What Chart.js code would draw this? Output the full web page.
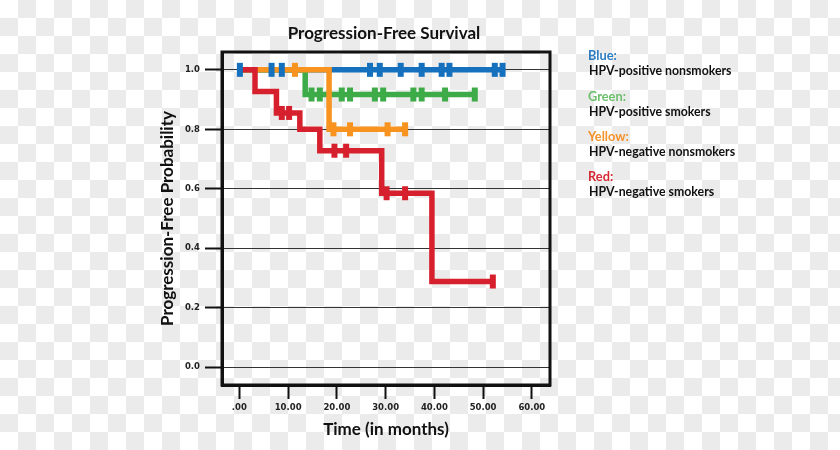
<!DOCTYPE html>
<html><head><meta charset="utf-8">
<script src="https://cdn.jsdelivr.net/npm/chart.js@4/dist/chart.umd.min.js"></script>
<style>
html,body{margin:0;padding:0;}
body{width:840px;height:450px;overflow:hidden;position:relative;
background:repeating-conic-gradient(#ebebeb 0 25%, #ffffff 0 50%) 0 0/36px 36px;}
#c{position:absolute;left:0;top:0;}
.t{position:absolute;font-family:Lato,sans-serif;font-weight:700;white-space:nowrap;line-height:15px;}
#title{position:absolute;left:284px;top:22px;width:200px;text-align:center;font-family:Lato,sans-serif;font-weight:700;font-size:17px;line-height:21px;color:#111;white-space:nowrap;}
</style>
</head><body>
<canvas id="c" width="840" height="450"></canvas>
<div id="title">Progression-Free Survival</div>
<div id="legend"></div>
<script>
// ---- data ----
const xTicks = [0, 10, 20, 30, 40, 50, 60];
const xTickLabels = ['.00', '10.00', '20.00', '30.00', '40.00', '50.00', '60.00'];
const yTicks = [0, 0.2, 0.4, 0.6, 0.8, 1.0];
const yTickLabels = ['0.0', '0.2', '0.4', '0.6', '0.8', '1.0'];

// step curves: times where survival changes, and the survival from then on
const blueTimes = [0, 54.0];
const blueSurv = [1.0, 1.0];
const blueCensor = [0.1, 6.6, 8.7, 26.8, 28.8, 33.1, 37.4, 41.5, 43.1, 52.4, 54.0];

const greenTimes = [0, 13.5, 48.3];
const greenSurv = [1.0, 0.917, 0.917];
const greenCensor = [14.8, 16.5, 21.0, 22.7, 27.8, 29.5, 35.7, 37.4, 42.2, 48.3];

const orangeTimes = [0, 18.4, 34.0];
const orangeSurv = [1.0, 0.80, 0.80];
const orangeCensor = [11.4, 19.3, 22.7, 30.4, 34.0];

const redTimes = [0, 3.2, 7.6, 12.4, 16.5, 29.2, 39.5, 52.0];
const redSurv = [1.0, 0.927, 0.855, 0.80, 0.728, 0.585, 0.288, 0.288];
const redCensor = [8.7, 10.2, 19.5, 21.9, 30.2, 34.0, 52.0];

const legendNames = ['Blue:', 'Green:', 'Yellow:', 'Red:'];
const legendDescs = ['HPV-positive nonsmokers', 'HPV-positive smokers', 'HPV-negative nonsmokers', 'HPV-negative smokers'];
const legendColors = ['#2a7bc0', '#6cbf6c', '#f4922c', '#d42a33'];

// ---- helpers ----
function curve(times, surv) { return times.map((t, i) => ({x: t, y: surv[i]})); }
function censorPts(ct, times, surv) {
  return ct.map(t => {
    let s = surv[0];
    for (let i = 0; i < times.length; i++) if (times[i] <= t) s = surv[i];
    return {x: t, y: s};
  });
}

const series = [
  {name: 'blue', color: '#1570be', times: blueTimes, surv: blueSurv, cens: blueCensor, order: 14},
  {name: 'green', color: '#3dab48', times: greenTimes, surv: greenSurv, cens: greenCensor, order: 13},
  {name: 'orange', color: '#f7931e', times: orangeTimes, surv: orangeSurv, cens: orangeCensor, order: 12},
  {name: 'red', color: '#d6202d', times: redTimes, surv: redSurv, cens: redCensor, order: 11}
];

const datasets = [];
series.forEach(s => {
  datasets.push({
    label: s.name, data: curve(s.times, s.surv), borderColor: s.color, backgroundColor: s.color,
    borderWidth: 5.5, stepped: 'before', pointRadius: 0, fill: false, order: s.order,
    borderJoinStyle: 'miter', borderCapStyle: 'butt'
  });
  datasets.push({
    label: s.name + ' censored', data: censorPts(s.cens, s.times, s.surv), showLine: false,
    pointStyle: 'line', rotation: 90, pointRadius: 7, pointBorderWidth: 6,
    pointBorderColor: s.color, pointBackgroundColor: s.color, order: s.order - 10
  });
});

// legend as HTML text
const lg = document.getElementById('legend');
const legendTops = [48, 89, 129, 169];
legendNames.forEach((n, i) => {
  const a = document.createElement('div'); a.className = 't';
  a.style.left = '588px'; a.style.top = legendTops[i] + 'px'; a.style.fontSize = '12.8px';
  a.style.color = legendColors[i]; a.textContent = n; lg.appendChild(a);
  const b = document.createElement('div'); b.className = 't';
  b.style.left = '589px'; b.style.top = (legendTops[i] + 15) + 'px'; b.style.fontSize = '12.3px';
  b.style.color = '#111'; b.textContent = legendDescs[i]; lg.appendChild(b);
});

const boxPlugin = {
  id: 'box',
  beforeDatasetsDraw(chart) {
    const {ctx, chartArea: a} = chart;
    ctx.save(); ctx.strokeStyle = '#111'; ctx.lineWidth = 3;
    ctx.strokeRect(a.left, a.top, a.right - a.left, a.bottom - a.top);
    ctx.restore();
  }
};

const tickFont = {family: 'DejaVu Sans', weight: 'bold', size: 8.5};
const titleFont = {family: 'Lato', weight: 'bold', size: 17};

function draw() {
  new Chart(document.getElementById('c'), {
    type: 'line',
    data: {datasets},
    plugins: [boxPlugin],
    options: {
      responsive: false, animation: false, devicePixelRatio: 1,
      layout: {padding: {left: 150, right: 290, top: 52, bottom: 0}},
      plugins: {legend: {display: false}, tooltip: {enabled: false}, title: {display: false}},
      scales: {
        x: {
          type: 'linear', min: -3.57, max: 63.73,
          afterBuildTicks: s => { s.ticks = xTicks.map(v => ({value: v})); },
          afterFit: s => { s.height = 65; },
          grid: {drawOnChartArea: false, drawTicks: true, tickLength: 14, tickWidth: 2, tickColor: '#111'},
          border: {display: true, width: 3, color: '#111'},
          ticks: {padding: 4, color: '#222', font: tickFont, maxRotation: 0, autoSkip: false,
            callback: v => xTickLabels[xTicks.indexOf(v)]},
          title: {display: true, text: 'Time (in months)', color: '#111', font: titleFont, padding: {top: 0, bottom: 10}}
        },
        y: {
          type: 'linear', min: -0.06, max: 1.06,
          afterBuildTicks: s => { s.ticks = yTicks.map(v => ({value: v})); },
          afterFit: s => { s.width = 72; },
          grid: {color: '#333', lineWidth: 1, drawTicks: true, tickLength: 17, tickWidth: 2, tickColor: '#111'},
          border: {display: true, width: 3, color: '#111'},
          ticks: {padding: 5, color: '#222', font: tickFont, autoSkip: false,
            callback: v => yTickLabels[yTicks.findIndex(t => Math.abs(t - v) < 1e-9)]},
          title: {display: true, text: 'Progression-Free Probability', color: '#111', font: titleFont, padding: {top: 7, bottom: 0}}
        }
      }
    }
  });
}
if (document.fonts && document.fonts.load) {
  Promise.all([document.fonts.load('bold 17px Lato'), document.fonts.load('bold 9px "DejaVu Sans"')]).then(draw, draw);
} else draw();
</script>
</body></html>
